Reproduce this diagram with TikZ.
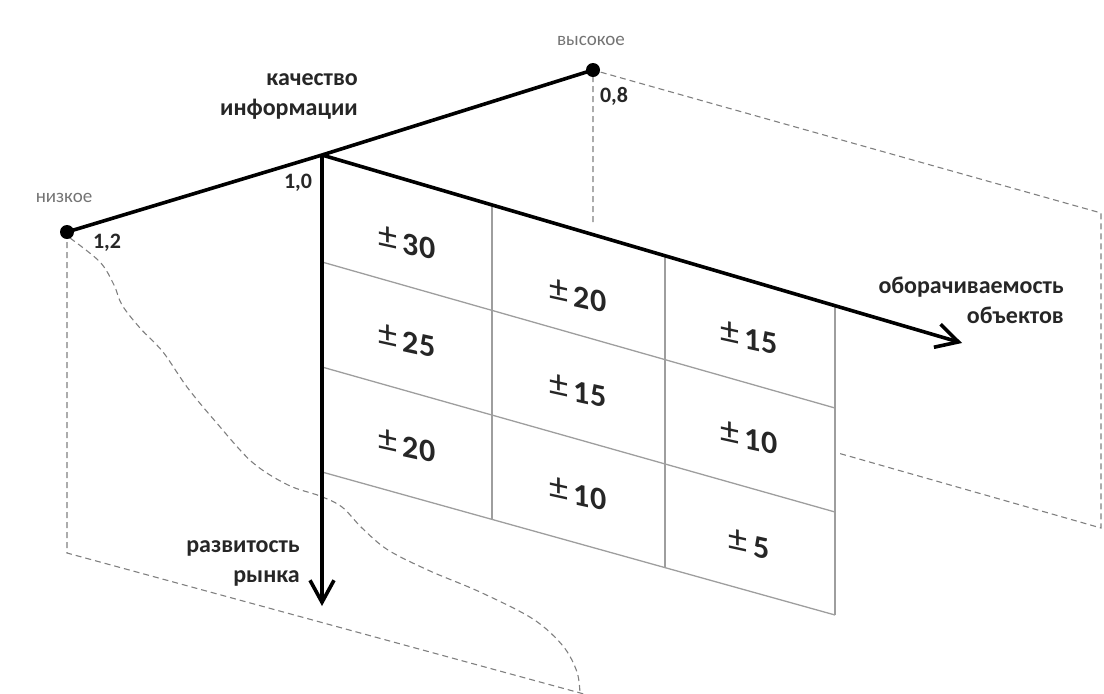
\documentclass[tikz,border=0pt]{standalone}
\usepackage{fontspec}
\setmainfont{Carlito}
\usetikzlibrary{arrows.meta,positioning}

\newcommand{\plusminus}[1]{{\mdseries\fontsize{38}{38}\selectfont\raisebox{1pt}{±}}\,#1}

\begin{document}
\begin{tikzpicture}[
  x=1pt, y=-1pt,
  axis/.style={line width=3.6pt, black},
  axisarrow/.style={axis, -{Straight Barb[length=22pt, width=24pt]}},
  gridline/.style={line width=1.3pt, black!38},
  backline/.style={line width=1.1pt, black!50, dash pattern=on 6pt off 4pt},
  dot/.style={circle, fill=black, inner sep=0pt, minimum size=14pt},
  axislabel/.style={font=\fontsize{24}{30}\selectfont\bfseries, align=right, text=black!85, inner sep=0pt},
  endlabel/.style={font=\fontsize{19}{22}\selectfont, text=black!55, inner sep=0pt},
  ticklabel/.style={font=\fontsize{22}{24}\selectfont\bfseries, text=black!85, inner sep=0pt},
  cell/.style={font=\fontsize{32}{34}\selectfont\bfseries, text=black!85, yslant=-0.22, inner sep=0pt}
]
  \useasboundingbox (0,0) rectangle (1104,694);

  % axes points
  \coordinate (O) at (322,155);
  \coordinate (L) at (67,232);
  \coordinate (H) at (593,70);
  \coordinate (endV) at (322,606);
  \coordinate (endD) at (962,343);

  % back planes (dashed)
  \coordinate (Lbot) at (67,553);
  \coordinate (Lend) at (584,694);
  \coordinate (Hbot) at (593,222);
  \coordinate (Hright) at (1101,213);
  \coordinate (Rbot) at (1101,528);
  \coordinate (Rin) at (838,453);
  \draw[backline] (L) -- (Lbot) -- (Lend);
  \draw[backline] (Hbot) -- (H) -- (Hright) -- (Rbot) -- (Rin);
  \draw[backline] plot[smooth, tension=0.55] coordinates {
    (70,238) (100,262) (114,285) (122,305) (140,328) (163,352) (187,387)
    (215,421) (252,462) (288,485) (320,496) (342,507) (362,528) (388,550)
    (430,571) (480,592) (533,619) (563,646) (577,672) (580,694)};

  % grid
  \draw[gridline] (322,262) -- (835,408);
  \draw[gridline] (322,367) -- (835,512);
  \draw[gridline] (322,472) -- (835,615);
  \draw[gridline] (492,205) -- (492,519);
  \draw[gridline] (665,256) -- (665,568);
  \draw[gridline] (835,306) -- (835,615);

  \node[cell] (c11) at (407,243) {\plusminus{30}};
  \node[cell] (c12) at (407,341) {\plusminus{25}};
  \node[cell] (c13) at (407,446) {\plusminus{20}};
  \node[cell] (c21) at (578,296) {\plusminus{20}};
  \node[cell] (c22) at (578,391) {\plusminus{15}};
  \node[cell] (c23) at (578,494) {\plusminus{10}};
  \node[cell] (c31) at (749,338) {\plusminus{15}};
  \node[cell] (c32) at (749,438) {\plusminus{10}};
  \node[cell] (c33) at (749,544) {\plusminus{5}};

  % axes
  \draw[axis] (L) -- (O) -- (H);
  \draw[axisarrow] (O) -- (endV);
  \draw[axisarrow] (O) -- (endD);
  \node[dot] (dotL) at (L) {};
  \node[dot] (dotH) at (H) {};

  % labels
  \node[axislabel, anchor=east] (quality) at (358,96) {качество\\информации};
  \node[axislabel, anchor=east] (turnover) at (1064,300) {оборачиваемость\\объектов};
  \node[axislabel, anchor=east] (market) at (300,563) {развитость\\рынка};
  \node[endlabel] (low) at (64,198) {низкое};
  \node[endlabel] (high) at (591,41) {высокое};
  \node[ticklabel] (t12) at (107,243) {1,2};
  \node[ticklabel] (t10) at (298,183) {1,0};
  \node[ticklabel] (t08) at (614,96) {0,8};
\end{tikzpicture}
\end{document}
